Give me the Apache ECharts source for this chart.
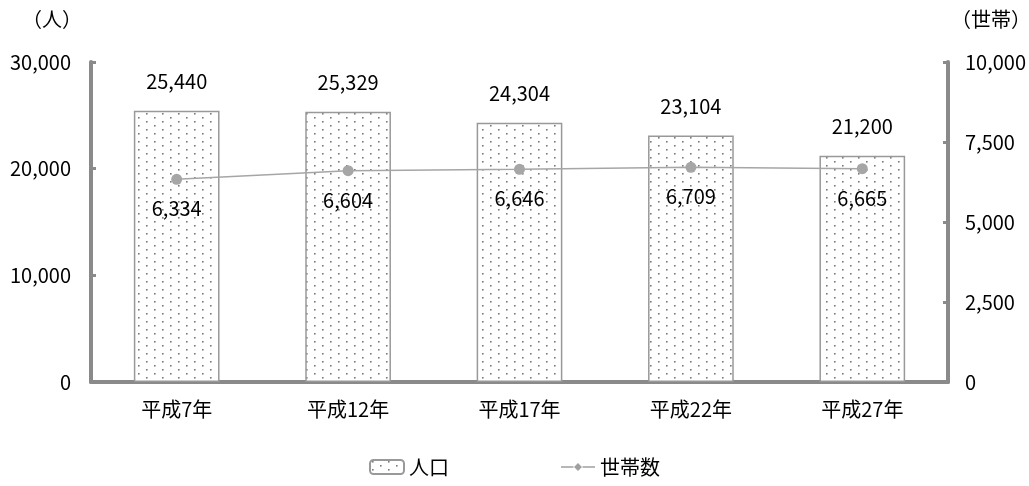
<!DOCTYPE html>
<html><head><meta charset="utf-8">
<script src="https://cdn.jsdelivr.net/npm/echarts@6/dist/echarts.min.js"></script>
<style>html,body{margin:0;padding:0;background:#fff}#c{width:1029px;height:486px}</style>
</head><body><div id="c"></div>
<script>
const categories = ['平成7年', '平成12年', '平成17年', '平成22年', '平成27年'];
const population = [25440, 25329, 24304, 23104, 21200];
const households = [6334, 6604, 6646, 6709, 6665];
const leftTicks = { min: 0, max: 30000, interval: 10000 };
const rightTicks = { min: 0, max: 10000, interval: 2500 };

const FONT = '"Noto Sans CJK JP", sans-serif';
const fmt = v => String(v).replace(/\B(?=(\d{3})+(?!\d))/g, ',');

// dotted pattern
const pc = document.createElement('canvas');
pc.width = 16; pc.height = 8;
const g = pc.getContext('2d');
g.fillStyle = '#fff'; g.fillRect(0, 0, 16, 8);
g.fillStyle = '#7a7a7a';
g.fillRect(2, 1, 1.6, 1.6);
g.fillRect(10, 5, 1.6, 1.6);

const axisColor = '#8a8a8a';
const chart = echarts.init(document.getElementById('c'));
chart.setOption({
  animation: false,
  grid: { left: 91, right: 81, top: 62, bottom: 104, containLabel: false, outerBoundsMode: 'none' },
  legend: {
    bottom: 4, left: 'center', itemGap: 112, itemWidth: 34, itemHeight: 14,
    textStyle: { fontFamily: FONT, fontSize: 20, color: '#000' },
    data: [
      { name: '人口' },
      { name: '世帯数', icon: 'path://M0,4.4H11V5.6H0Z M15,1.5L18.5,5L15,8.5L11.5,5Z M19,4.4H30V5.6H19Z', itemStyle: { color: '#a0a0a0' } }
    ]
  },
  xAxis: {
    type: 'category', data: categories,
    axisLine: { lineStyle: { color: axisColor, width: 4 } },
    axisTick: { inside: true, length: 5, lineStyle: { color: axisColor, width: 3 } },
    axisLabel: { fontFamily: FONT, fontSize: 20, color: '#000', margin: 17 }
  },
  yAxis: [
    {
      type: 'value', min: leftTicks.min, max: leftTicks.max, interval: leftTicks.interval,
      name: '（人）', nameLocation: 'end', nameGap: 33,
      nameTextStyle: { fontFamily: FONT, fontSize: 20, color: '#000', align: 'right', padding: [0, 9, 0, 0] },
      axisLine: { show: true, lineStyle: { color: axisColor, width: 4 } },
      axisTick: { show: true, inside: true, length: 5, lineStyle: { color: axisColor, width: 3 } },
      splitLine: { show: false },
      axisLabel: { fontFamily: FONT, fontSize: 20, color: '#000', margin: 20, formatter: fmt }
    },
    {
      type: 'value', min: rightTicks.min, max: rightTicks.max, interval: rightTicks.interval,
      name: '（世帯）', nameLocation: 'end', nameGap: 33,
      nameTextStyle: { fontFamily: FONT, fontSize: 20, color: '#000', align: 'left', padding: [0, 0, 0, 3] },
      axisLine: { show: true, lineStyle: { color: axisColor, width: 4 } },
      axisTick: { show: true, inside: true, length: 5, lineStyle: { color: axisColor, width: 3 } },
      splitLine: { show: false },
      axisLabel: { fontFamily: FONT, fontSize: 20, color: '#000', margin: 17, formatter: fmt }
    }
  ],
  series: [
    {
      name: '人口', type: 'bar', data: population, barWidth: '50%', yAxisIndex: 0,
      itemStyle: { color: { image: pc, repeat: 'repeat' }, borderColor: '#999', borderWidth: 1.5 },
      label: { show: true, position: 'top', distance: 19, fontFamily: FONT, fontSize: 20, color: '#000', formatter: p => fmt(p.value) }
    },
    {
      name: '世帯数', type: 'line', data: households, yAxisIndex: 1, z: 5,
      symbol: 'circle', symbolSize: 11,
      lineStyle: { color: '#a6a6a6', width: 1.5 },
      itemStyle: { color: '#a6a6a6' },
      label: { show: true, position: 'bottom', distance: 14, fontFamily: FONT, fontSize: 20, color: '#000', formatter: p => fmt(p.value) }
    }
  ]
});
</script></body></html>
